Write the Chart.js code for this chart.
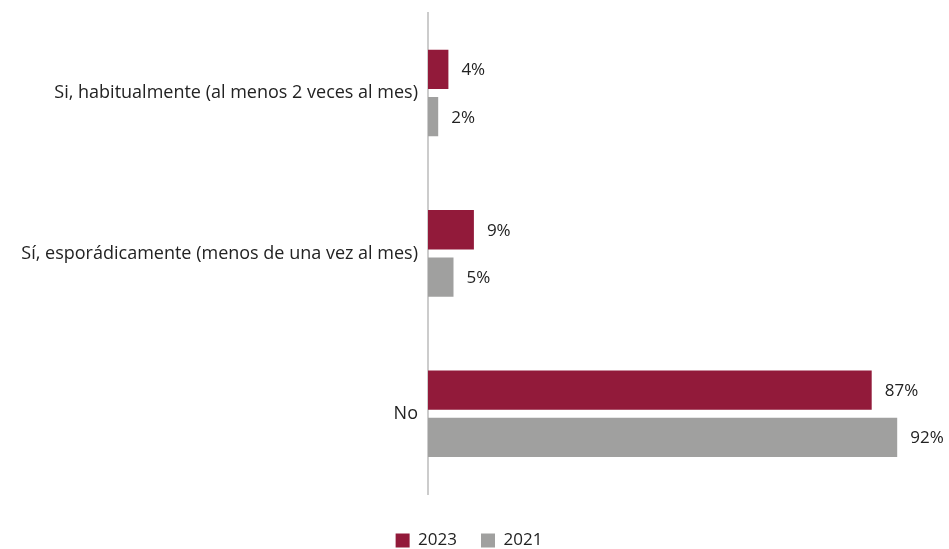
<!DOCTYPE html>
<html lang="es">
<head>
    <meta charset="UTF-8">
    <title>Encuesta</title>
    <style>
        html, body { margin: 0; padding: 0; background: #fff; }
        #wrap { width: 949px; height: 549px; position: relative; }
    </style>
</head>
<body>
    <div id="wrap"><canvas id="myChart"></canvas></div>
    <script src="https://cdn.jsdelivr.net/npm/chart.js"></script>
    <script>
        // chart data
        const categories = [
            "Si, habitualmente (al menos 2 veces al mes)",
            "Sí, esporádicamente (menos de una vez al mes)",
            "No"
        ];
        const values2023 = [4, 9, 87];
        const values2021 = [2, 5, 92];
        const seriesNames = ["2023", "2021"];

        // draws the % next to each bar
        const valueLabels = {
            id: "valueLabels",
            afterDatasetsDraw(chart) {
                const ctx = chart.ctx;
                ctx.save();
                ctx.font = "17px 'Open Sans'";
                ctx.fillStyle = "#222";
                ctx.textBaseline = "middle";
                chart.data.datasets.forEach((ds, i) => {
                    chart.getDatasetMeta(i).data.forEach((bar, j) => {
                        ctx.fillText(ds.data[j] + "%", bar.x + 13, bar.y + 1);
                    });
                });
                ctx.restore();
            }
        };

        new Chart(document.getElementById("myChart"), {
            type: "bar",
            data: {
                labels: categories,
                datasets: [
                    {
                        label: seriesNames[0],
                        data: values2023,
                        backgroundColor: "#921a3a",
                        barPercentage: 0.83,
                        categoryPercentage: 0.59
                    },
                    {
                        label: seriesNames[1],
                        data: values2021,
                        backgroundColor: "#a0a09f",
                        barPercentage: 0.83,
                        categoryPercentage: 0.59
                    }
                ]
            },
            options: {
                indexAxis: "y",
                responsive: true,
                maintainAspectRatio: false,
                animation: false,
                layout: { padding: { top: 4, right: 11, left: 0, bottom: -10 } },
                scales: {
                    x: {
                        min: 0,
                        max: 100,
                        grid: { display: false },
                        border: { display: false },
                        ticks: { display: false },
                        afterFit(s) { s.height = 14; }
                    },
                    y: {
                        grid: { display: false },
                        border: { color: "#cccccc", width: 2 },
                        ticks: {
                            color: "#222",
                            font: { family: "Open Sans", size: 18 },
                            padding: 2
                        },
                        afterFit(s) { s.width = 428; }
                    }
                },
                plugins: {
                    legend: {
                        position: "bottom",
                        labels: {
                            boxWidth: 14,
                            boxHeight: 14,
                            color: "#222",
                            font: { family: "Open Sans", size: 17 },
                            padding: 24
                        }
                    },
                    tooltip: { enabled: false }
                }
            },
            plugins: [valueLabels]
        });
    </script>
</body>
</html>
